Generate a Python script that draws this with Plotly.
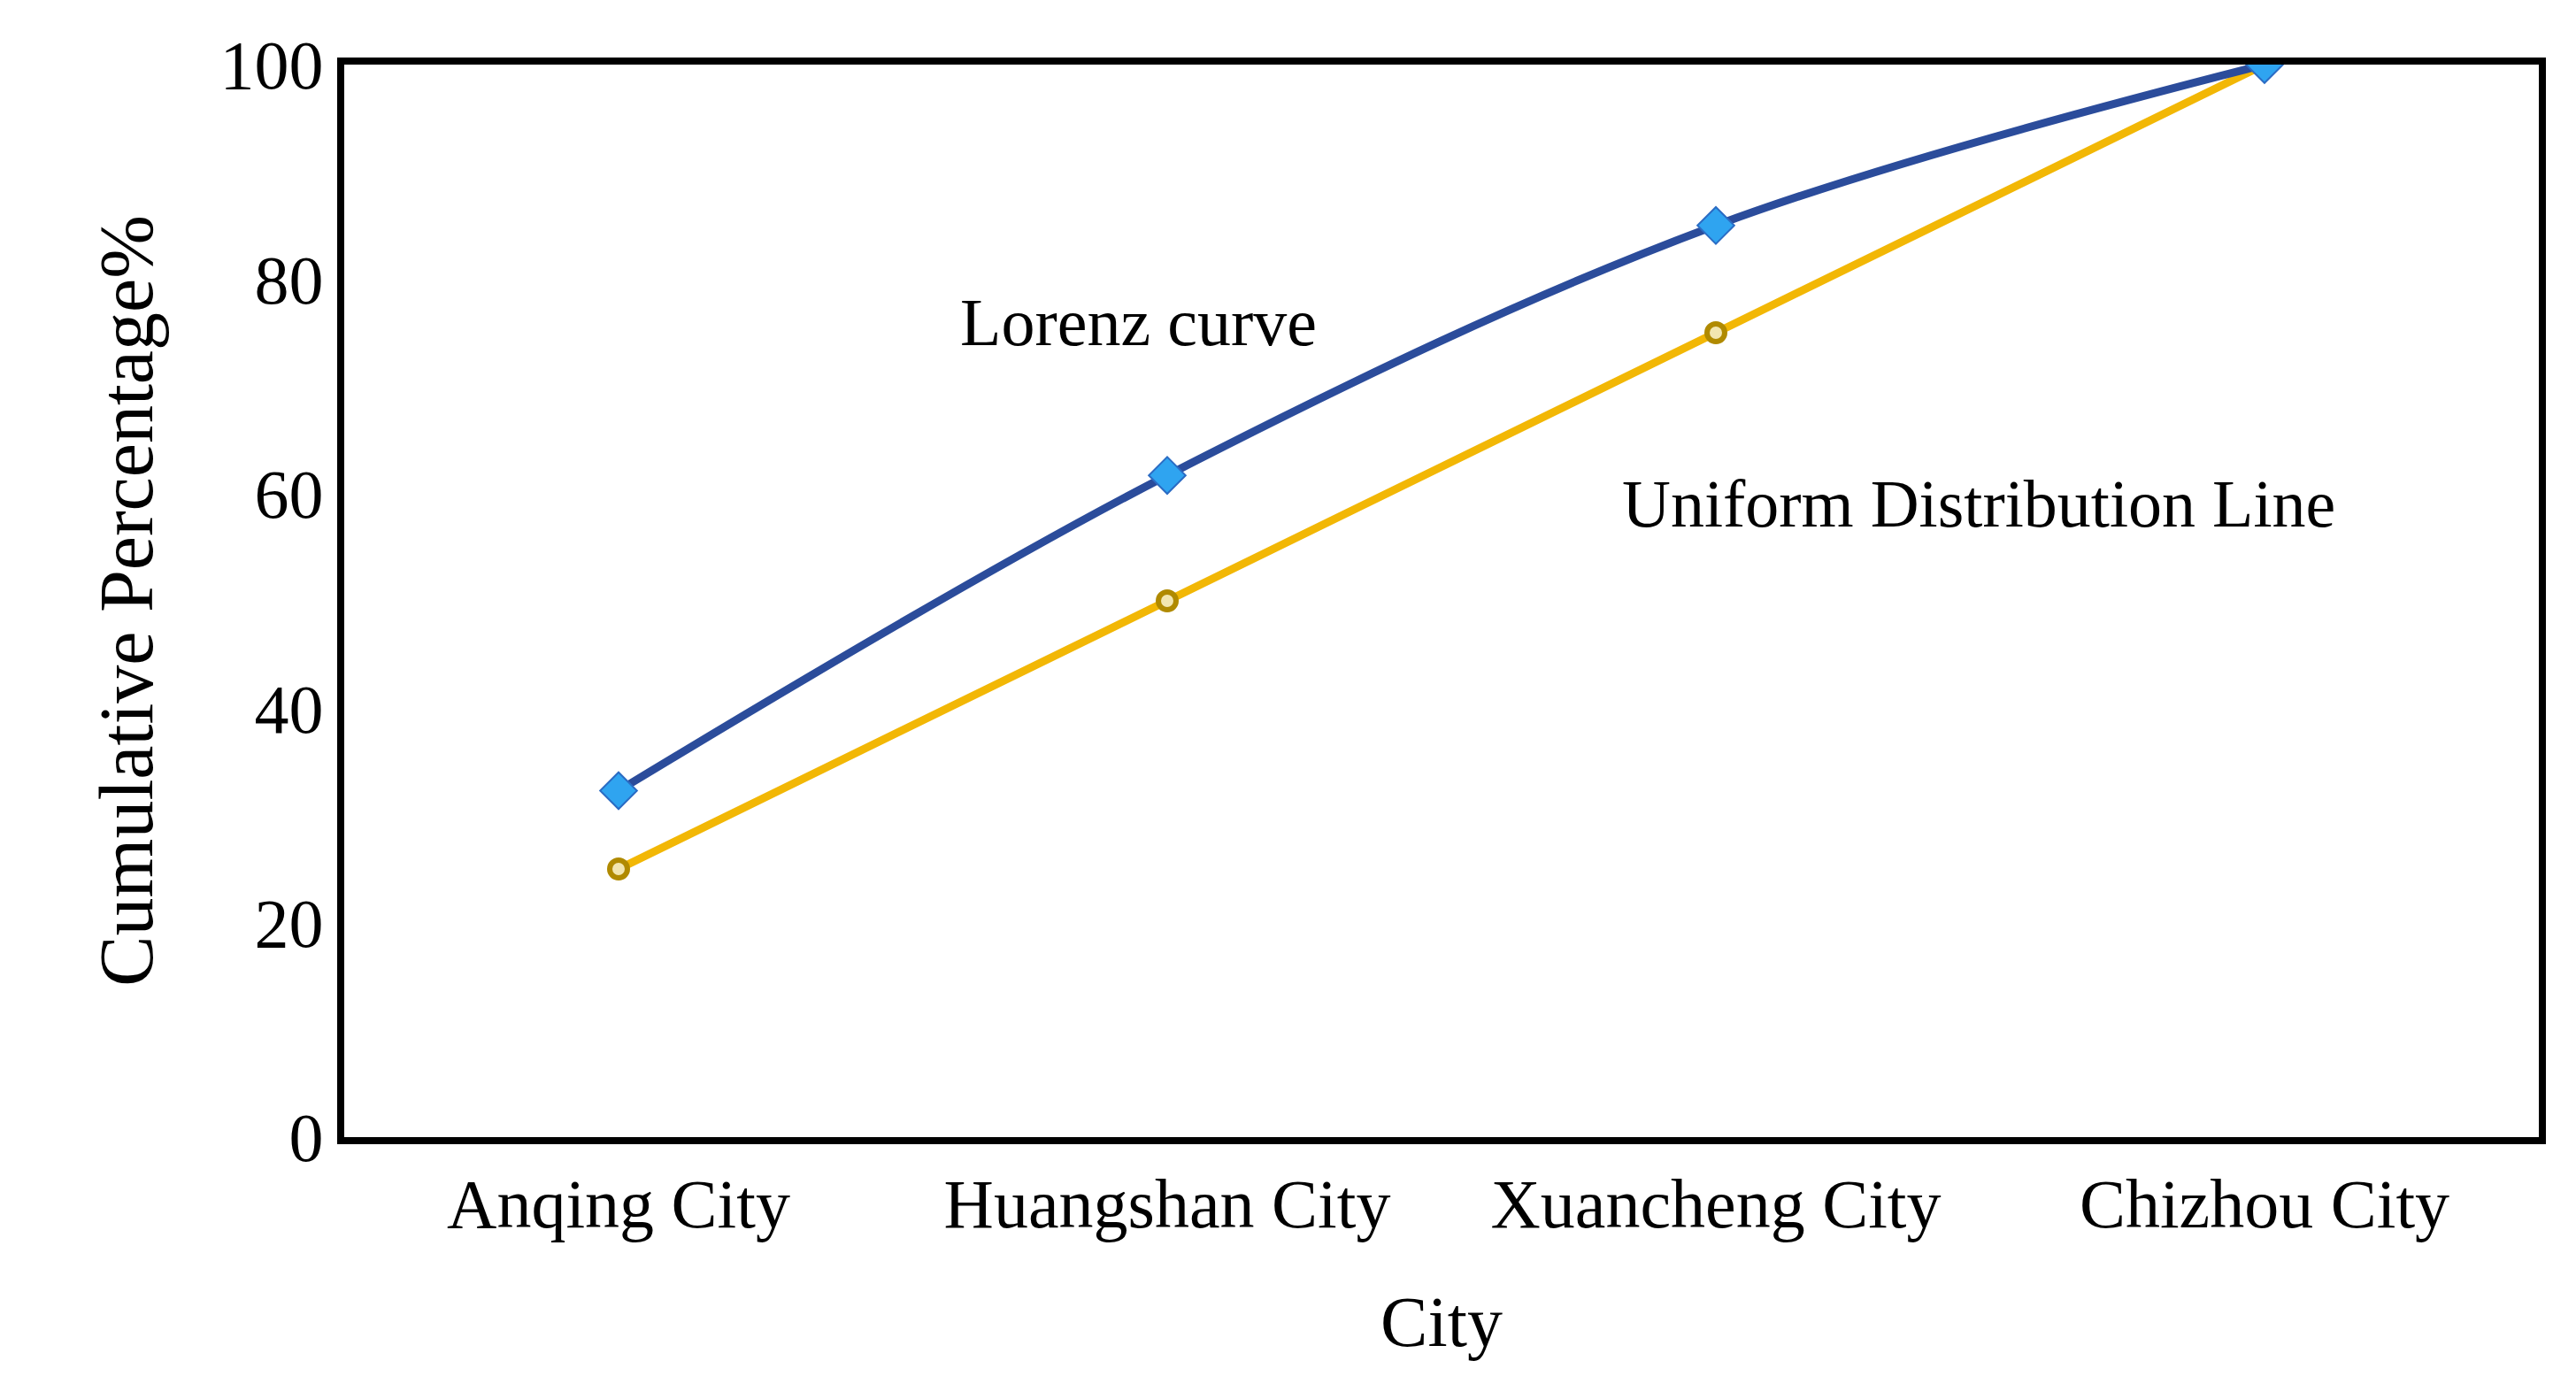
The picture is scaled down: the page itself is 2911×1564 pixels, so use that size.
import plotly.graph_objects as go

# data
cities = ["Anqing City", "Huangshan City", "Xuancheng City", "Chizhou City"]
lorenz = [32.3, 61.7, 85.0, 100.0]
uniform = [25.0, 50.0, 75.0, 100.0]
y_ticks = [0, 20, 40, 60, 80, 100]

font_name = "Liberation Serif"

fig = go.Figure()
fig.add_trace(go.Scatter(
    x=cities, y=uniform, mode="lines+markers", line_shape="spline",
    line=dict(color="#F2B705", width=9),
    marker=dict(symbol="circle", size=20, color="#F2E6B0",
                line=dict(color="#B08A00", width=6)),
))
fig.add_trace(go.Scatter(
    x=cities, y=lorenz, mode="lines+markers", line_shape="spline",
    line=dict(color="#2B4C9B", width=9),
    marker=dict(symbol="diamond", size=32, color="#2FA4F0",
                line=dict(color="#2B6CC4", width=2)),
))

fig.add_annotation(x=0.948, y=76, text="Lorenz curve", showarrow=False,
                   font=dict(size=76, color="black", family=font_name))
fig.add_annotation(x=2.479, y=59.1, text="Uniform Distribution Line", showarrow=False,
                   font=dict(size=76, color="black", family=font_name))

fig.update_layout(
    width=2911, height=1564,
    paper_bgcolor="white", plot_bgcolor="white",
    showlegend=False,
    font=dict(family=font_name, color="black", size=78),
    margin=dict(l=381, r=50, t=65, b=287),
)
fig.update_xaxes(
    type="category", range=[-0.5, 3.5],
    showline=True, linecolor="black", linewidth=8, mirror=True,
    showgrid=False, ticks="", tickfont=dict(size=78),
    title=dict(text="City", font=dict(size=80), standoff=65),
)
fig.update_yaxes(
    range=[0, 100], tickvals=y_ticks,
    showline=True, linecolor="black", linewidth=8, mirror=True,
    showgrid=False, ticks="", tickfont=dict(size=78), zeroline=False,
    title=dict(text="Cumulative Percentage%", font=dict(size=86), standoff=50),
)

fig.write_html("out.html")
